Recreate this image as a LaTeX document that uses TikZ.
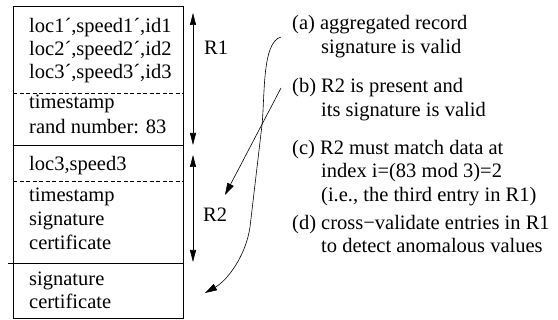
\documentclass[tikz,border=0pt]{standalone}
\usepackage{fontspec}
\setmainfont{Liberation Serif}
\usetikzlibrary{arrows.meta}
\begin{document}
\begin{tikzpicture}[x=1pt,y=-1pt,
  txt/.style={anchor=base west,inner sep=0pt,font=\fontsize{20.5}{23}\selectfont},
  boxline/.style={line width=0.9pt},
  sep/.style={line width=0.6pt,dash pattern=on 4pt off 2.5pt},
  tip/.style={-{Triangle[length=12pt,width=7pt]}},
  dtip/.style={{Triangle[length=12pt,width=6pt]}-{Triangle[length=12pt,width=6pt]}},
  conn/.style={line width=0.6pt}]
\useasboundingbox (0,0) rectangle (558,320);
% box
\draw[boxline] (13,6) rectangle (183,318);
\draw[sep] (13,93) -- (183,93);
\draw[boxline] (13,145) -- (183,145);
\draw[sep] (13,181) -- (183,181);
\draw[boxline] (8,263) -- (183,263);
% left texts
\node[txt] (l1) at (29,33) {loc1´,speed1´,id1};
\node[txt] (l2) at (29,56) {loc2´,speed2´,id2};
\node[txt] (l3) at (29,79) {loc3´,speed3´,id3};
\node[txt] (l4) at (29,109) {timestamp};
\node[txt] (l5) at (29,134) {rand number: 83};
\node[txt] (m1) at (29,171) {loc3,speed3};
\node[txt] (m2) at (29,202) {timestamp};
\node[txt] (m3) at (29,226) {signature};
\node[txt] (m4) at (29,250) {certificate};
\node[txt] (b1) at (29,286) {signature};
\node[txt] (b2) at (29,309) {certificate};
% vertical arrows
\coordinate (r1t) at (193,13);
\coordinate (r1b) at (193,145);
\coordinate (r2t) at (193,155);
\coordinate (r2b) at (193,262);
\draw[conn,dtip] (r1t) -- (r1b);
\draw[conn,dtip] (r2t) -- (r2b);
\node[txt] (R1) at (204,55) {R1};
\node[txt] (R2) at (203,222) {R2};
% right texts
\node[txt] (a1) at (292,30) {(a) aggregated record};
\node[txt] (a2) at (321,54) {signature is valid};
\node[txt] (bb1) at (292,93) {(b) R2 is present and};
\node[txt] (bb2) at (321,117) {its signature is valid};
\node[txt] (c1) at (292,155) {(c) R2 must match data at};
\node[txt] (c2) at (321,178) {index i=(83 mod 3)=2};
\node[txt] (c3) at (321,202) {(i.e., the third entry in R1)};
\node[txt] (d1) at (292,230) {(d) cross−validate entries in R1};
\node[txt] (d2) at (321,253) {to detect anomalous values};
% curved arrows
\coordinate (sa) at (281,37);
\coordinate (ea) at (205,293);
\coordinate (sb) at (281,88);
\coordinate (eb) at (225,195);
\draw[conn,tip] (sa) .. controls (262,42) and (265,95) .. (262,125)
  -- (250,227) .. controls (246,255) and (228,280) .. (ea);
\draw[conn,tip] (sb) -- (eb);
\end{tikzpicture}
\end{document}
